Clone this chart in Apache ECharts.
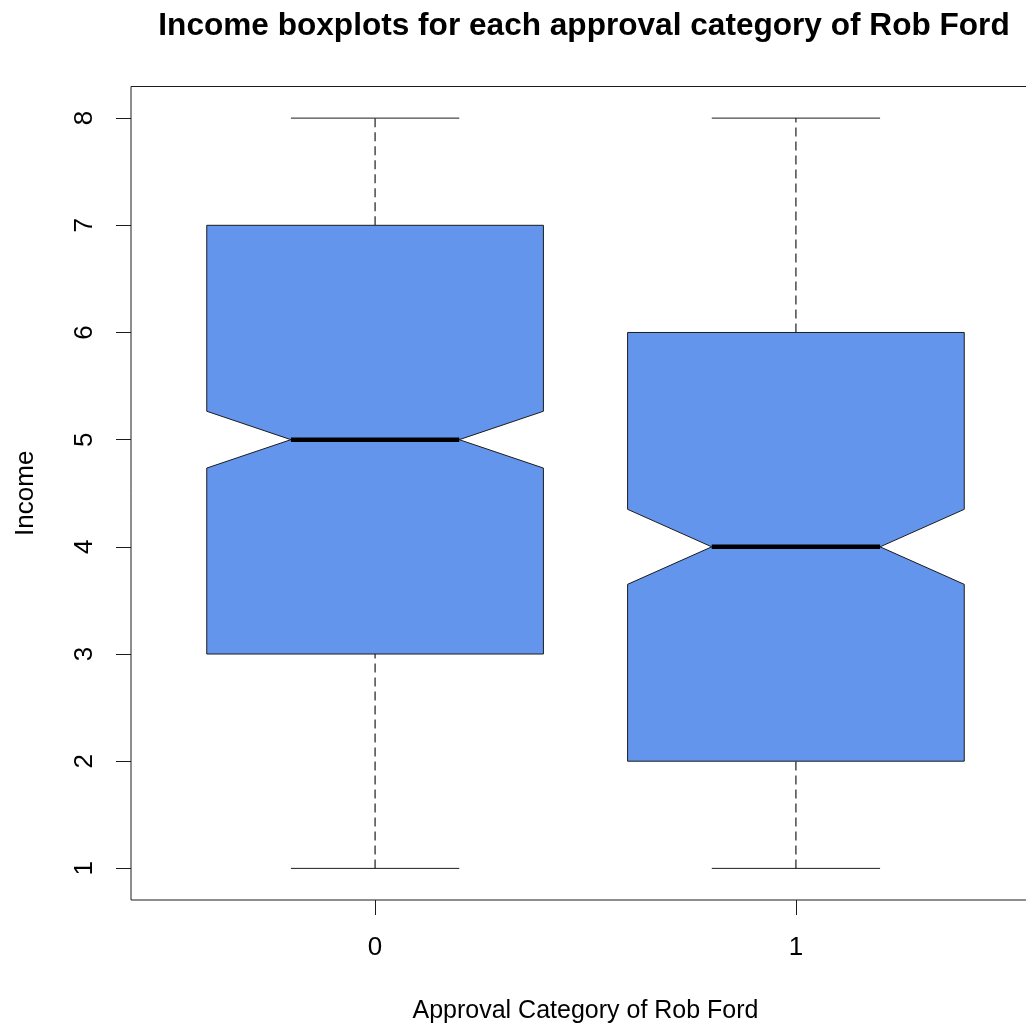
<!DOCTYPE html>
<html>
<head>
<meta charset="utf-8">
<script src="https://cdn.jsdelivr.net/npm/echarts@6/dist/echarts.min.js"></script>
<style>
  html, body { margin: 0; padding: 0; background: #ffffff; }
  #chart { width: 1026px; height: 1027px; }
</style>
</head>
<body>
<div id="chart"></div>
<script>
// Five-number summaries (plus notch bounds) of income per approval category
const categories = ['0', '1'];
const whiskerLow = [1, 1];
const lowerQuartile = [3, 2];
const notchLow = [4.735, 3.65];
const median = [5, 4];
const notchHigh = [5.265, 4.35];
const upperQuartile = [7, 6];
const whiskerHigh = [8, 8];
const yTicks = [1, 2, 3, 4, 5, 6, 7, 8];
const xTicks = [1, 2];

const boxWidth = 0.8;
const ink = '#1c1c1c';
const fill = '#6495ED';
const fontFamily = '"Liberation Sans", Arial, sans-serif';

const boxData = categories.map((c, i) => [
  i + 1, whiskerLow[i], lowerQuartile[i], notchLow[i], median[i],
  notchHigh[i], upperQuartile[i], whiskerHigh[i]
]);

function renderBox(params, api) {
  const x = api.value(0);
  const lo = api.value(1), q1 = api.value(2), nl = api.value(3), md = api.value(4);
  const nh = api.value(5), q3 = api.value(6), hi = api.value(7);
  const hw = boxWidth / 2, nw = boxWidth / 4;
  const pt = (dx, v) => api.coord([x + dx, v]);
  const seg = (a, b, style) => ({
    type: 'line',
    shape: { x1: a[0], y1: a[1], x2: b[0], y2: b[1] },
    style: Object.assign({ stroke: ink, lineWidth: 1 }, style)
  });
  const dashed = { lineDash: [9, 5], lineWidth: 1.2 };
  return {
    type: 'group',
    children: [
      seg(pt(0, lo), pt(0, q1), dashed),
      seg(pt(0, q3), pt(0, hi), dashed),
      seg(pt(-nw, lo), pt(nw, lo), {}),
      seg(pt(-nw, hi), pt(nw, hi), {}),
      {
        type: 'polygon',
        shape: {
          points: [
            pt(-hw, q1), pt(-hw, nl), pt(-nw, md), pt(-hw, nh), pt(-hw, q3),
            pt(hw, q3), pt(hw, nh), pt(nw, md), pt(hw, nl), pt(hw, q1)
          ]
        },
        style: { fill: fill, stroke: ink, lineWidth: 1 }
      },
      seg(pt(-nw, md), pt(nw, md), { stroke: '#000000', lineWidth: 4.5 })
    ]
  };
}

const chart = echarts.init(document.getElementById('chart'), null, { renderer: 'canvas' });
chart.setOption({
  backgroundColor: '#ffffff',
  animation: false,
  title: {
    text: 'Income boxplots for each approval category of Rob Ford',
    left: 579,
    top: 5,
    textAlign: 'center',
    textStyle: { fontFamily: fontFamily, fontWeight: 'bold', fontSize: 31.6, color: '#000000' }
  },
  grid: {
    left: 131,
    top: 86.5,
    width: 909,
    height: 813.5,
    outerBoundsMode: 'none',
    containLabel: false,
    show: true,
    borderColor: ink,
    borderWidth: 1,
    backgroundColor: 'transparent'
  },
  xAxis: {
    type: 'value',
    min: 0.42,
    max: 2.58,
    name: 'Approval Category of Rob Ford',
    nameLocation: 'middle',
    nameGap: 99,
    nameTextStyle: { fontFamily: fontFamily, fontSize: 25, color: '#000000' },
    axisLine: { show: false },
    splitLine: { show: false },
    axisTick: { show: true, length: 15, customValues: xTicks, lineStyle: { color: ink, width: 1 } },
    axisLabel: {
      customValues: xTicks,
      margin: 35,
      fontFamily: fontFamily,
      fontSize: 26,
      color: '#000000',
      formatter: v => categories[Math.round(v) - 1]
    }
  },
  yAxis: {
    type: 'value',
    min: 0.705,
    max: 8.295,
    name: 'Income',
    nameLocation: 'middle',
    nameGap: 92,
    nameRotate: 90,
    nameTextStyle: { fontFamily: fontFamily, fontSize: 26, color: '#000000' },
    axisLine: { show: false },
    splitLine: { show: false },
    axisTick: { show: true, length: 15, customValues: yTicks, lineStyle: { color: ink, width: 1 } },
    axisLabel: {
      customValues: yTicks,
      rotate: 90,
      margin: 33,
      fontFamily: fontFamily,
      fontSize: 26,
      color: '#000000'
    }
  },
  series: [{
    type: 'custom',
    renderItem: renderBox,
    data: boxData,
    clip: false,
    encode: { x: 0, y: [1, 2, 3, 4, 5, 6, 7] }
  }]
});
</script>
</body>
</html>
